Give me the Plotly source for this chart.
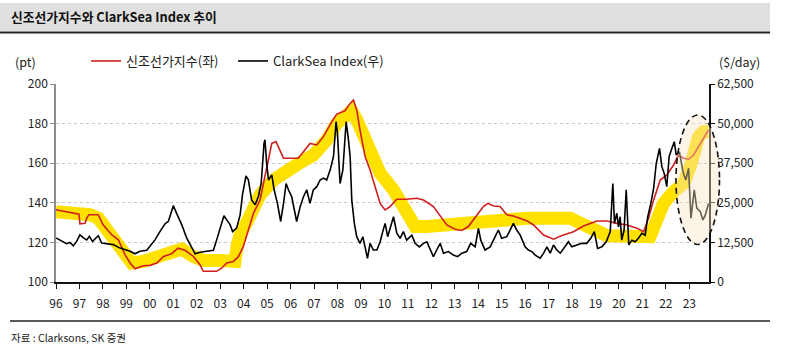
import plotly.graph_objects as go

# ---------------- data ----------------
years = list(range(1996, 2024))
year_labels = [f"{y % 100:02d}" for y in years]

left_ticks = [100, 120, 140, 160, 180, 200]
right_ticks = [0, 12500, 25000, 37500, 50000, 62500]

# 신조선가지수 (pt, left axis)
nb_x = [1996.00, 1996.45, 1996.90, 1996.98, 1997.02, 1997.24, 1997.30, 1997.40, 1997.80, 1998.00,
        1998.37, 1998.66, 1998.94, 1999.16, 1999.37, 1999.72, 2000.00, 2000.30, 2000.58, 2000.93,
        2001.20, 2001.50, 2001.86, 2002.14, 2002.28, 2002.85, 2003.07, 2003.28, 2003.56, 2003.78,
        2003.99, 2004.20, 2004.42, 2004.70, 2004.98, 2005.20, 2005.38, 2005.55, 2005.70, 2006.33,
        2006.62, 2006.83, 2007.12, 2007.40, 2007.76, 2007.97, 2008.32, 2008.54, 2008.68, 2008.82,
        2008.96, 2009.18, 2009.39, 2009.60, 2009.82, 2010.03, 2010.24, 2010.53, 2010.95, 2011.38,
        2011.67, 2012.09, 2012.45, 2012.66, 2013.02, 2013.30, 2013.58, 2013.94, 2014.22, 2014.41,
        2014.65, 2014.93, 2015.22, 2015.50, 2015.79, 2016.07, 2016.36, 2016.79, 2017.21, 2017.57,
        2018.06, 2018.49, 2019.06, 2019.49, 2019.91, 2020.34, 2020.77, 2021.05, 2021.26, 2021.48,
        2021.76, 2022.04, 2022.33, 2022.54, 2022.76, 2022.97, 2023.18, 2023.47, 2023.68, 2023.82]
nb_y = [136.5, 135.6, 134.5, 134.2, 129.4, 129.7, 132.0, 134.0, 134.0, 129.0,
        123.9, 121.3, 113.8, 109.6, 106.7, 108.2, 108.4, 109.6, 112.9, 114.3,
        117.1, 116.0, 112.9, 108.7, 105.4, 105.4, 107.1, 109.6, 110.4, 112.9,
        118.0, 126.4, 134.8, 141.4, 156.6, 170.0, 170.9, 166.7, 162.5, 162.5,
        166.7, 170.0, 169.2, 173.4, 181.0, 184.8, 186.5, 190.2, 191.9, 186.9,
        176.8, 163.3, 156.6, 148.2, 139.7, 136.4, 138.1, 141.8, 141.8, 142.3,
        141.4, 138.1, 132.2, 128.8, 126.6, 126.0, 128.0, 133.9, 138.1, 139.7,
        138.4, 138.1, 133.9, 133.3, 132.0, 131.0, 128.8, 123.7, 121.6, 123.5,
        125.4, 128.3, 130.8, 130.8, 129.6, 128.8, 127.1, 125.4, 132.2, 141.4,
        151.5, 154.1, 159.1, 164.1, 162.5, 162.0, 164.1, 170.0, 174.2, 176.8]

# ClarkSea Index ($/day, right axis)
cs_x = [1996.00, 1996.24, 1996.45, 1996.60, 1996.74, 1996.88, 1997.02, 1997.17, 1997.31, 1997.42,
        1997.56, 1997.70, 1997.80, 1997.95, 1998.16, 1998.44, 1998.73, 1998.94, 1999.16, 1999.37,
        1999.58, 1999.87, 2000.00, 2000.22, 2000.43, 2000.65, 2000.79, 2001.00, 2001.17, 2001.36,
        2001.57, 2001.79, 2001.93, 2002.14, 2002.43, 2002.71, 2002.85, 2002.99, 2003.16, 2003.28,
        2003.42, 2003.53, 2003.70, 2003.85, 2003.95, 2004.10, 2004.20, 2004.34, 2004.49, 2004.63,
        2004.75, 2004.87, 2004.91, 2004.98, 2005.06, 2005.20, 2005.30, 2005.44, 2005.58, 2005.70,
        2005.81, 2005.91, 2006.05, 2006.19, 2006.26, 2006.41, 2006.55, 2006.69, 2006.83, 2006.97,
        2007.12, 2007.26, 2007.40, 2007.54, 2007.69, 2007.83, 2007.94, 2008.00, 2008.11, 2008.23,
        2008.37, 2008.47, 2008.54, 2008.61, 2008.72, 2008.82, 2008.96, 2009.08, 2009.18, 2009.28,
        2009.39, 2009.53, 2009.68, 2009.82, 2009.93, 2010.03, 2010.14, 2010.27, 2010.39, 2010.53,
        2010.67, 2010.81, 2010.95, 2011.17, 2011.31, 2011.49, 2011.67, 2011.81, 2011.95, 2012.09,
        2012.23, 2012.38, 2012.52, 2012.73, 2012.94, 2013.12, 2013.30, 2013.51, 2013.68, 2013.87,
        2014.01, 2014.11, 2014.29, 2014.51, 2014.65, 2014.86, 2015.00, 2015.22, 2015.36, 2015.50,
        2015.64, 2015.79, 2016.00, 2016.14, 2016.29, 2016.43, 2016.64, 2016.79, 2016.93, 2017.07,
        2017.21, 2017.35, 2017.50, 2017.71, 2017.85, 2017.99, 2018.21, 2018.42, 2018.63, 2018.80,
        2018.95, 2019.09, 2019.27, 2019.46, 2019.63, 2019.74, 2019.81, 2019.91, 2019.98, 2020.05,
        2020.12, 2020.22, 2020.31, 2020.37, 2020.42, 2020.55, 2020.69, 2020.83, 2020.98, 2021.12,
        2021.23, 2021.36, 2021.48, 2021.59, 2021.73, 2021.83, 2021.93, 2022.04, 2022.14, 2022.26,
        2022.36, 2022.44, 2022.58, 2022.73, 2022.85, 2022.97, 2023.07, 2023.21, 2023.32, 2023.47,
        2023.58, 2023.68, 2023.82]
cs_y = [13900, 12800, 12100, 12500, 11400, 12800, 14900, 13900, 13300, 14400,
        12800, 13900, 14600, 12300, 12100, 11800, 10700, 10200, 9700, 8900,
        9700, 10000, 11300, 13300, 15900, 18400, 19100, 24100, 21200, 18100,
        13900, 10700, 8900, 9400, 9700, 10000, 13300, 17000, 20900, 19600,
        18100, 15900, 17000, 21200, 27500, 33500, 32300, 25900, 24400, 27000,
        31300, 43800, 44900, 37500, 32200, 33800, 29100, 24800, 19100, 24800,
        31100, 29100, 26900, 21700, 19100, 23800, 26900, 29100, 24800, 29100,
        30100, 32200, 32800, 32200, 35400, 39600, 50600, 46900, 31100, 35400,
        50600, 44800, 39600, 25900, 18500, 14300, 12200, 14300, 10600, 7500,
        12200, 10100, 10100, 12700, 15900, 18500, 14300, 17400, 20600, 15400,
        13800, 15900, 13200, 14800, 12200, 11100, 12200, 12700, 10100, 8000,
        10100, 12200, 9100, 9600, 8500, 8000, 9100, 9600, 12200, 11100,
        16900, 13200, 10100, 11100, 13200, 16400, 13800, 14300, 16400, 18500,
        16400, 14800, 11100, 10100, 9600, 8500, 7500, 9100, 11100, 9100,
        11700, 10100, 9100, 11100, 12700, 11100, 11700, 12200, 12200, 13800,
        15900, 10600, 11100, 12700, 15900, 31100, 18500, 21700, 17400, 20600,
        13200, 16400, 29100, 18500, 11700, 13200, 12700, 13800, 15400, 14800,
        20600, 24800, 29600, 37400, 42200, 36400, 34300, 30100, 39600, 42200,
        44300, 40100, 41100, 34800, 32200, 35900, 20100, 29100, 23300, 22200,
        19600, 21100, 24800]

# trend band (pt, left axis)
band_x = [1996.00, 1997.02, 1997.45, 1997.80, 1998.16, 1998.59, 1998.94, 1999.23, 1999.72, 2000.30,
          2001.00, 2001.36, 2001.86, 2002.28, 2003.00, 2003.63, 2003.72, 2003.85, 2004.13, 2004.56,
          2004.70, 2005.27, 2005.84, 2006.41, 2006.97, 2007.54, 2007.97, 2008.40, 2008.61, 2008.82,
          2009.11, 2009.39, 2009.82, 2010.39, 2010.81, 2011.10, 2011.31, 2011.81, 2013.23, 2014.65,
          2016.07, 2017.92, 2018.35, 2018.92, 2019.49, 2021.33, 2021.62, 2021.90, 2022.33, 2022.76,
          2023.04, 2023.25, 2023.40, 2023.61, 2023.82]
band_y = [135.5, 134.8, 134.0, 132.3, 126.4, 119.7, 113.3, 109.6, 110.4, 112.9,
          116.3, 116.6, 112.9, 110.9, 110.9, 110.4, 118.0, 124.0, 130.0, 140.0,
          144.0, 151.5, 156.6, 160.3, 164.1, 171.7, 180.0, 184.5, 186.5, 182.0,
          173.4, 163.3, 154.9, 146.5, 138.1, 132.2, 128.0, 128.0, 129.6, 131.3,
          132.2, 132.2, 129.6, 126.3, 123.4, 122.9, 133.0, 139.7, 145.6, 149.8,
          158.2, 166.7, 173.4, 175.9, 175.9]

# ---------------- layout helpers (pixel -> paper) ----------------
W, H = 792, 355
L, R, T, B = 56, 83, 84, 73
PW, PH = W - L - R, H - T - B


def px(x):
    return (x - L) / PW


def py(y):
    return (H - B - y) / PH


FONT = "Noto Sans CJK KR"

fig = go.Figure()
fig.add_trace(go.Scatter(x=band_x, y=band_y, mode="lines", showlegend=False,
                         line=dict(color="#ffe100", width=13), hoverinfo="skip"))
fig.add_trace(go.Scatter(x=nb_x, y=nb_y, mode="lines", name="신조선가지수(좌)", legend="legend",
                         line=dict(color="#d21e1e", width=1.6)))
fig.add_trace(go.Scatter(x=cs_x, y=cs_y, mode="lines", name="ClarkSea Index(우)", yaxis="y2",
                         legend="legend2", line=dict(color="#000000", width=1.6)))

shapes = [
    # title bar
    dict(type="rect", xref="paper", yref="paper", x0=px(0), x1=px(770), y0=py(31), y1=py(3),
         fillcolor="#e0e0e0", line=dict(width=0), layer="below"),
    dict(type="line", xref="paper", yref="paper", x0=px(0), x1=px(770), y0=py(32.5), y1=py(32.5),
         line=dict(color="#222222", width=2)),
    # bottom rule
    dict(type="line", xref="paper", yref="paper", x0=px(10), x1=px(770), y0=py(321), y1=py(321),
         line=dict(color="#222222", width=1.5)),
    # highlight ellipse
    dict(type="circle", xref="paper", yref="paper", x0=px(676), x1=px(719.5), y0=py(244.5), y1=py(115),
         fillcolor="rgba(248,228,196,0.42)", line=dict(color="#111111", width=1.6, dash="6px,4px"),
         layer="above"),
]

annotations = [
    dict(text="<b>신조선가지수와 ClarkSea Index 추이</b>", xref="paper", yref="paper", x=px(9), y=py(17),
         xanchor="left", yanchor="middle", showarrow=False,
         font=dict(family=FONT, size=12.8, color="#111111")),
    dict(text="(pt)", xref="paper", yref="paper", x=px(38), y=py(61), xanchor="right",
         yanchor="middle", showarrow=False, font=dict(family=FONT, size=12.5, color="#222222")),
    dict(text="($/day)", xref="paper", yref="paper", x=px(717), y=py(61), xanchor="left",
         yanchor="middle", showarrow=False, font=dict(family=FONT, size=12.5, color="#222222")),
    dict(text="자료 : Clarksons, SK 증권", xref="paper", yref="paper", x=px(9), y=py(337),
         xanchor="left", yanchor="middle", showarrow=False,
         font=dict(family=FONT, size=10.5, color="#222222")),
]

legend_common = dict(orientation="h", y=py(61), xanchor="left", yanchor="middle",
                     font=dict(family=FONT, size=13, color="#222222"), bgcolor="rgba(0,0,0,0)",
                     itemwidth=30, tracegroupgap=0)

fig.update_layout(
    width=W, height=H,
    margin=dict(l=L, r=R, t=T, b=B, autoexpand=False),
    paper_bgcolor="white", plot_bgcolor="white",
    font=dict(family=FONT, size=12, color="#222222"),
    shapes=shapes, annotations=annotations,
    showlegend=True,
    legend=dict(x=px(86), **legend_common),
    legend2=dict(x=px(233), **legend_common),
    xaxis=dict(range=[1996, 2023.84], tickmode="array", tickvals=years, ticktext=year_labels,
               showgrid=False, zeroline=False, showline=True, linecolor="#111111", linewidth=1.5,
               ticks="outside", ticklen=5, tickcolor="#111111", tickwidth=1, ticklabelstandoff=5,
               tickfont=dict(family=FONT, size=12, color="#222222")),
    yaxis=dict(range=[100, 200], tickmode="array", tickvals=left_ticks,
               showgrid=True, gridcolor="#c8c8c8", griddash="dot", gridwidth=1,
               zeroline=False, showline=True, linecolor="#8c8c8c", linewidth=1.5,
               ticks="outside", ticklen=4, tickcolor="#8c8c8c",
               tickfont=dict(family=FONT, size=12, color="#222222")),
    yaxis2=dict(range=[0, 62500], overlaying="y", side="right", tickmode="array",
                tickvals=right_ticks, tickformat=",", showgrid=False, zeroline=False,
                showline=True, linecolor="#111111", linewidth=1.5,
                ticks="outside", ticklen=4, tickcolor="#111111",
                tickfont=dict(family=FONT, size=12, color="#222222")),
)

fig.write_html("out.html", config={"displayModeBar": False},
               post_script="document.body.style.margin='0';")
